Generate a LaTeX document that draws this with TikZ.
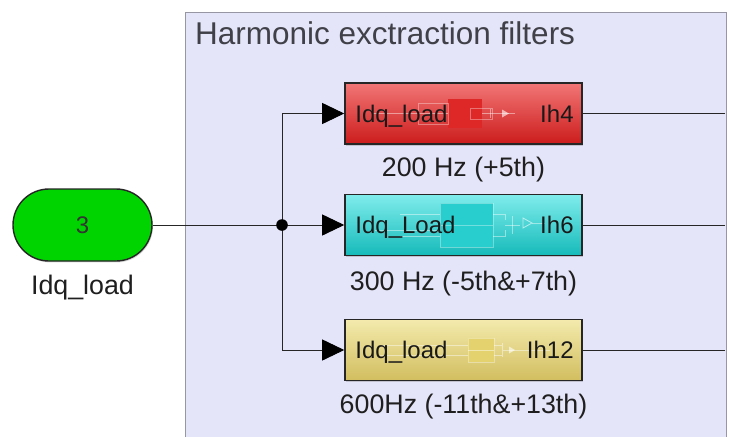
\documentclass[tikz,border=0pt]{standalone}
\usepackage{fontspec}
\setmainfont{Liberation Sans}
\usetikzlibrary{arrows.meta,shadows}

\definecolor{areafill}{RGB}{229,229,250}
\definecolor{areaedge}{RGB}{150,150,165}
\definecolor{titlegray}{RGB}{64,64,72}
\definecolor{inport}{RGB}{0,212,0}
\definecolor{redtop}{RGB}{242,118,118}
\definecolor{redbot}{RGB}{204,28,28}
\definecolor{redin}{RGB}{222,40,40}
\definecolor{cyantop}{RGB}{128,236,236}
\definecolor{cyanbot}{RGB}{22,186,186}
\definecolor{cyanin}{RGB}{40,205,205}
\definecolor{yeltop}{RGB}{243,234,172}
\definecolor{yelbot}{RGB}{210,190,96}
\definecolor{yelin}{RGB}{228,210,110}

\tikzset{
  wire/.style={line width=0.9pt, draw=black!85},
  feed/.style={wire, -{Triangle[length=22pt,width=21pt,fill=black,color=black]}},
  filterbox/.style={draw=black!85, line width=1.6pt, minimum width=237pt,
    minimum height=61pt, inner sep=0pt,
    drop shadow={shadow xshift=1.2pt, shadow yshift=-1.6pt, opacity=.35}},
  porttext/.style={font=\fontsize{24}{27}\selectfont, text=black!90, inner sep=0pt},
  caption/.style={font=\fontsize{26.8}{31}\selectfont, text=black!88, inner sep=0pt},
  ghost/.style={draw=white, opacity=.45, line width=0.6pt},
  ghostbox/.style={draw=white, draw opacity=.35, line width=0.5pt},
}

\begin{document}
\begin{tikzpicture}[x=1pt,y=-1pt]
  \useasboundingbox (0,0) rectangle (729,437);
  \fill[white] (0,0) rectangle (729,437);

  % subsystem area
  \fill[areafill] (185,12) rectangle (726,437);
  \draw[areaedge, line width=0.9pt] (185,437) -- (185,12) -- (726,12) -- (726,437);
  \node[anchor=base west, inner sep=0pt, text=titlegray,
        font=\fontsize{31.5}{36}\selectfont] (title) at (195,44) {Harmonic exctraction filters};

  % input port
  \node[draw=black!85, line width=1.4pt, fill=inport, minimum width=139pt,
        minimum height=72pt, rounded corners=36pt, inner sep=0pt,
        drop shadow={shadow xshift=1pt, shadow yshift=-1.4pt, opacity=.3},
        font=\fontsize{24}{28}\selectfont, text=black!80] (in) at (82.5,225) {3};
  \node[caption, anchor=base] (inlabel) at (82.5,294) {Idq\_load};

  % filter blocks
  \node[filterbox, top color=redtop, bottom color=redbot] (f4) at (463.5,113.5) {};
  \node[filterbox, top color=cyantop, bottom color=cyanbot] (f6) at (463.5,225) {};
  \node[filterbox, top color=yeltop, bottom color=yelbot] (f12) at (463.5,350) {};

  % faint contents of the red block
  \fill[redin] (448,99) rectangle (482,128);
  \draw[ghost] (372,113.5) -- (448,113.5) (482,113.5) -- (515,113.5);
  \draw[ghostbox] (418,103) rectangle (448,124) (470,108) rectangle (492,119);
  \draw[ghost] (490,109) -- (490,118);
  \fill[white, opacity=.6] (502,109.5) -- (509,113.5) -- (502,117.5) -- cycle;

  % faint contents of the cyan block
  \fill[cyanin] (440,203) rectangle (493,247);
  \draw[ghostbox] (440,203) rectangle (493,225) (440,225) rectangle (493,247);
  \draw[ghost] (375,230) -- (440,230) (400,214) -- (440,214) (400,236) -- (440,236)
               (493,214) -- (505,214) -- (505,220) (493,236) -- (505,236) -- (505,230)
               (505,225) -- (520,225);
  \draw[ghost] (512,216) -- (512,234);
  \draw[white, opacity=.6, line width=0.8pt] (523,218) -- (532,223) -- (523,228) -- cycle;
  \draw[ghost] (532,223) -- (545,223);

  % faint contents of the yellow block
  \fill[yelin] (468,338) rectangle (494,362);
  \draw[ghostbox] (468,338) rectangle (494,362);
  \draw[ghost] (380,345) -- (468,345) (380,355) -- (468,355) (468,350) -- (494,350)
               (494,345) -- (502,345) (494,355) -- (502,355) (502,343) -- (502,357)
               (502,350) -- (550,350);
  \fill[white, opacity=.6] (509,346.5) -- (515,350) -- (509,353.5) -- cycle;

  % port names
  \node[porttext, anchor=base west] (f4in) at ([xshift=11pt]f4.west |- 0,122) {Idq\_load};
  \node[porttext, anchor=base east] (f4out) at ([xshift=-9pt]f4.east |- 0,122) {Ih4};
  \node[porttext, anchor=base west] (f6in) at ([xshift=11pt]f6.west |- 0,233.5) {Idq\_Load};
  \node[porttext, anchor=base east] (f6out) at ([xshift=-9pt]f6.east |- 0,233.5) {Ih6};
  \node[porttext, anchor=base west] (f12in) at ([xshift=11pt]f12.west |- 0,358.5) {Idq\_load};
  \node[porttext, anchor=base east] (f12out) at ([xshift=-9pt]f12.east |- 0,358.5) {Ih12};

  % block captions
  \node[caption, anchor=base] (c4) at (463.5,176) {200 Hz (+5th)};
  \node[caption, anchor=base] (c6) at (463.5,290) {300 Hz (-5th\&+7th)};
  \node[caption, anchor=base] (c12) at (463.5,413) {600Hz (-11th\&+13th)};

  % wiring
  \coordinate (j) at (282,225);
  \draw[wire] (in.east) -- (j);
  \draw[feed] (j) -- (f6.west);
  \draw[feed] (j) |- (f4.west);
  \draw[feed] (j) |- (f12.west);
  \fill[black] (j) circle (5.8pt);

  \coordinate (o4) at (725,113.5);
  \coordinate (o6) at (725,225);
  \coordinate (o12) at (725,350);
  \draw[wire] (f4.east) -- (o4);
  \draw[wire] (f6.east) -- (o6);
  \draw[wire] (f12.east) -- (o12);
\end{tikzpicture}
\end{document}
